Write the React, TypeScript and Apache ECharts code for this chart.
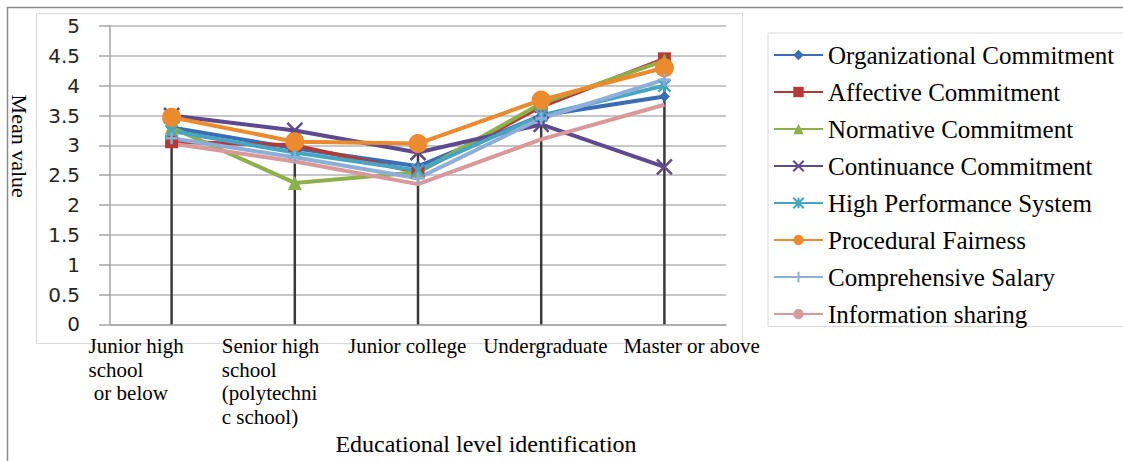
import React, { useEffect, useRef } from "react";
import * as echarts from "echarts";

// Education levels, each split into the lines shown under the axis
const categoryLines: string[][] = [
  ["Junior high", "school", " or below"],
  ["Senior high", "school", "(polytechni", "c school)"],
  ["Junior college"],
  ["Undergraduate"],
  ["Master or above"],
];
const categories = categoryLines.map((l) => l.join(" "));

const seriesNames = [
  "Organizational Commitment",
  "Affective Commitment",
  "Normative Commitment",
  "Continuance Commitment",
  "High Performance System",
  "Procedural Fairness",
  "Comprehensive Salary",
  "Information sharing",
];

// Mean values per education level
const organizational = [3.3, 2.95, 2.65, 3.5, 3.82];
const affective = [3.06, 3.0, 2.55, 3.65, 4.45];
const normative = [3.3, 2.37, 2.55, 3.7, 4.42];
const continuance = [3.5, 3.25, 2.88, 3.35, 2.64];
const highPerformance = [3.24, 2.88, 2.58, 3.5, 4.0];
const procedural = [3.47, 3.06, 3.03, 3.76, 4.3];
const salary = [3.12, 2.8, 2.45, 3.45, 4.1];
const sharing = [3.03, 2.73, 2.35, 3.1, 3.68];

const seriesValues = [
  organizational,
  affective,
  normative,
  continuance,
  highPerformance,
  procedural,
  salary,
  sharing,
];

const colors = [
  "#3A6DB4",
  "#B53A37",
  "#8DB04B",
  "#5E4A8E",
  "#45A5C2",
  "#EC8A2E",
  "#8DAED8",
  "#D9989A",
];

const symbols = [
  "diamond",
  "rect",
  "triangle",
  "path://M0,0L10,10M10,0L0,10",
  "path://M0,0L10,10M10,0L0,10M5,0L5,10",
  "circle",
  "path://M5,0L5,10M0,5L10,5",
  "none",
];
const symbolSizes = [11, 13, 14, 15, 12, 19, 12, 0];
const strokeSymbols = [false, false, false, true, true, false, true, false];

// Left edge of each wrapped category label, measured back from its tick
const labelWidths = [83, 73, 70, 58, 41];

const serif = "'Liberation Serif', 'Times New Roman', serif";

export default function App() {
  const ref = useRef<HTMLDivElement>(null);

  useEffect(() => {
    if (!ref.current) return;
    const chart = echarts.init(ref.current, undefined, { renderer: "svg" });

    // Drop lines run from the highest point of each level down to the axis
    const dropTop = categories.map((_, i) =>
      Math.max(...seriesValues.map((s) => s[i]))
    );

    const rich: Record<string, any> = {};
    labelWidths.forEach((w, i) => {
      rich["c" + i] = {
        width: w,
        align: "left",
        fontFamily: serif,
        fontSize: 21,
        color: "#000",
        lineHeight: 23.5,
      };
    });

    const lineSeries = seriesNames.map((name, i) => ({
      name,
      type: "line",
      data: seriesValues[i],
      symbol: symbols[i],
      symbolSize: symbolSizes[i],
      showSymbol: symbols[i] !== "none",
      lineStyle: { color: colors[i], width: 4 },
      itemStyle: strokeSymbols[i]
        ? { color: colors[i], borderColor: colors[i], borderWidth: 2.5 }
        : { color: colors[i] },
      emphasis: { disabled: true },
    }));

    chart.setOption({
      animation: false,
      backgroundColor: "#fff",
      color: colors,
      grid: { left: 108, right: 397, top: 26, bottom: 133, containLabel: false },
      legend: {
        data: seriesNames,
        orient: "vertical",
        left: 768,
        top: 33,
        padding: [9.5, 12, 0, 5],
        itemWidth: 49,
        itemHeight: 13,
        itemGap: 12,
        borderColor: "#D9D9D9",
        borderWidth: 1,
        textStyle: {
          fontFamily: serif,
          fontSize: 25,
          lineHeight: 25,
          color: "#000",
        },
      },
      xAxis: {
        type: "category",
        data: categories,
        boundaryGap: true,
        name: "Educational level identification",
        nameLocation: "middle",
        nameGap: 91,
        nameTextStyle: {
          fontFamily: serif,
          fontSize: 24,
          color: "#000",
          padding: [0, 0, 0, 136],
        },
        axisLine: { show: true, lineStyle: { color: "#A6A6A6", width: 1.5 } },
        axisTick: { show: false },
        axisLabel: {
          interval: 0,
          margin: 10,
          align: "right",
          formatter: (_v: string, idx: number) =>
            categoryLines[idx].map((l) => `{c${idx}|${l}}`).join("\n"),
          rich,
        },
      },
      yAxis: {
        type: "value",
        min: 0,
        max: 5,
        interval: 0.5,
        name: "Mean value",
        nameLocation: "middle",
        nameRotate: -90,
        nameGap: 80,
        nameTextStyle: {
          fontFamily: serif,
          fontSize: 22,
          color: "#000",
          padding: [0, 58, 0, 0],
        },
        axisLine: { show: true, lineStyle: { color: "#A6A6A6", width: 1.5 } },
        axisTick: {
          show: true,
          length: 11,
          lineStyle: { color: "#A6A6A6", width: 1.5 },
        },
        splitLine: { show: true, lineStyle: { color: "#B5B5B5", width: 1.5 } },
        axisLabel: {
          margin: 30,
          fontFamily: "'DejaVu Sans', sans-serif",
          fontSize: 20,
          color: "#262626",
          formatter: (v: number) => String(v),
        },
      },
      graphic: [
        {
          type: "line",
          silent: true,
          shape: { x1: 7, y1: 7.5, x2: 1123, y2: 7.5 },
          style: { stroke: "#8C8C8C", lineWidth: 1.5 },
        },
        {
          type: "line",
          silent: true,
          shape: { x1: 7.5, y1: 7, x2: 7.5, y2: 461 },
          style: { stroke: "#8C8C8C", lineWidth: 1.5 },
        },
        {
          type: "rect",
          silent: true,
          z: -1,
          shape: { x: 36.5, y: 13.5, width: 706, height: 330 },
          style: { fill: "none", stroke: "#D9D9D9", lineWidth: 1 },
        },
      ],
      series: [
        ...lineSeries,
        {
          name: "drop",
          type: "bar",
          data: dropTop,
          barWidth: 2.5,
          silent: true,
          itemStyle: { color: "#3A3A3A" },
        },
      ],
    });

    return () => chart.dispose();
  }, []);

  return (
    <div
      ref={ref}
      style={{ position: "absolute", left: 0, top: 0, width: 1123, height: 461 }}
    />
  );
}
